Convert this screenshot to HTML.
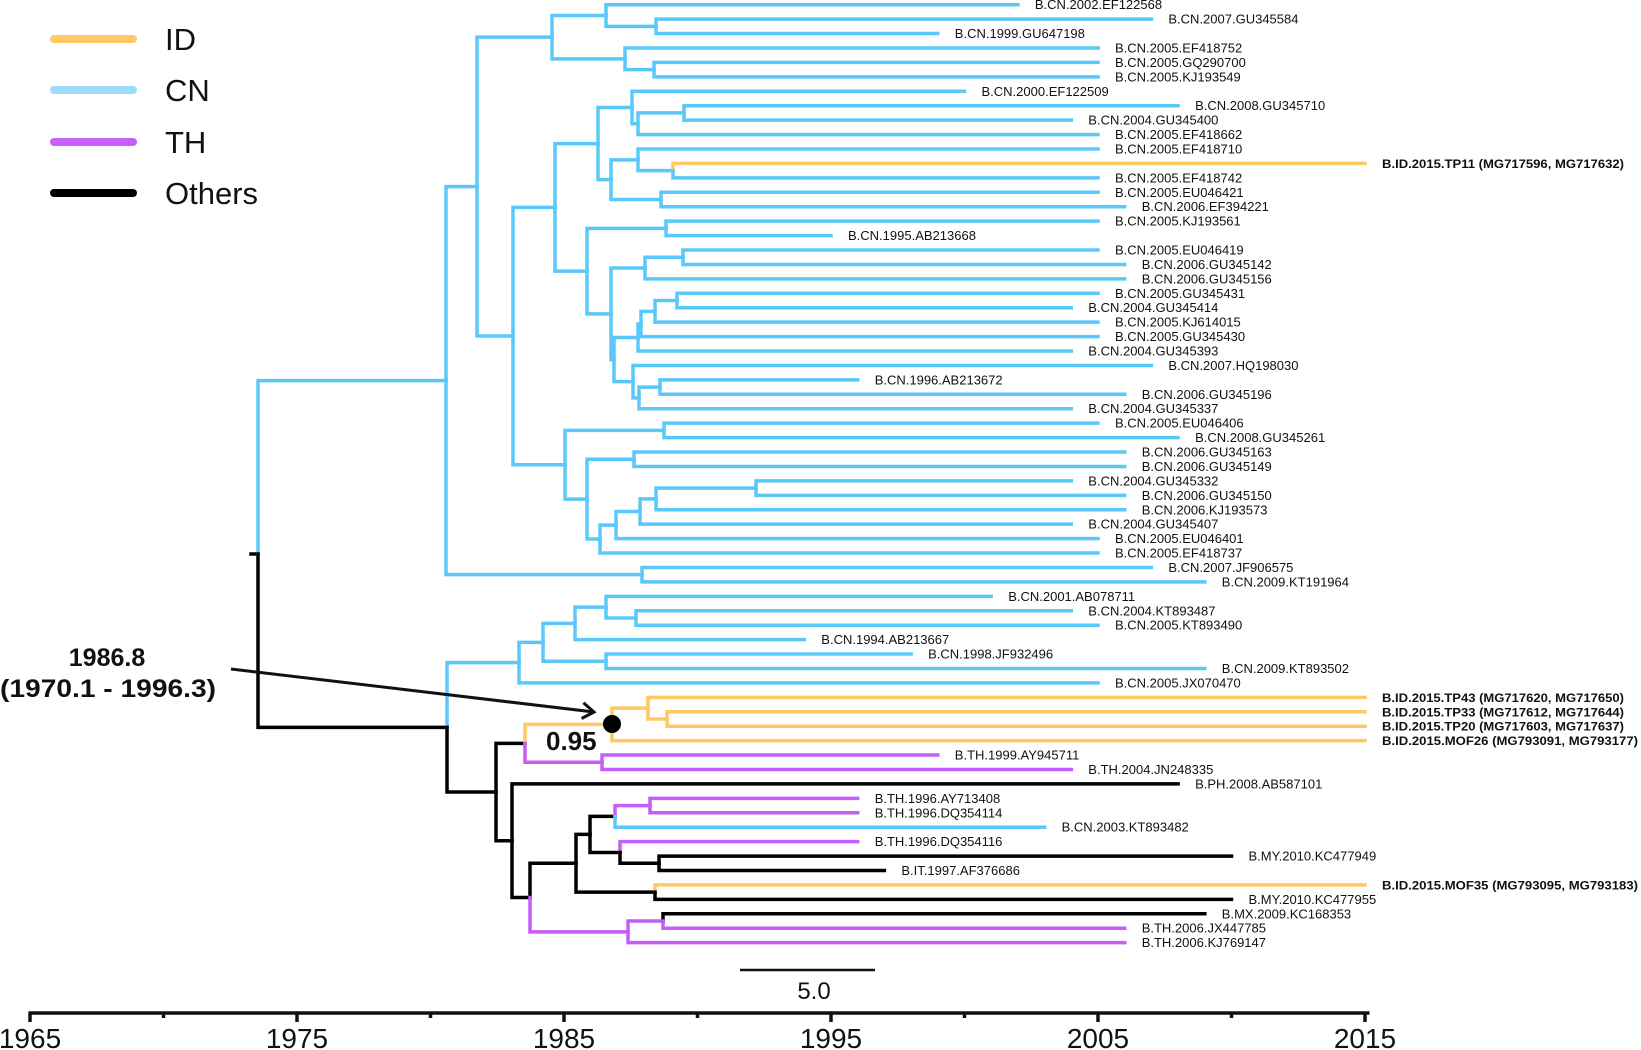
<!DOCTYPE html>
<html><head><meta charset="utf-8"><style>
html,body{margin:0;padding:0;background:#fff;}
svg{display:block;font-family:"Liberation Sans",Arial,sans-serif;}
</style></head><body>
<svg id="s" width="1641" height="1050" viewBox="0 0 1641 1050" xmlns="http://www.w3.org/2000/svg">
<g id="tree" fill="none" stroke-width="3.5" stroke-linecap="square"></g>
<g id="labels" font-size="13" fill="#111"></g>
<!-- legend -->
<g stroke-width="8" stroke-linecap="round">
<line x1="54" y1="39" x2="133" y2="39" stroke="#FFC966"/>
<line x1="54" y1="90" x2="133" y2="90" stroke="#9DDCFB"/>
<line x1="54" y1="142" x2="133" y2="142" stroke="#C660FA"/>
<line x1="54" y1="193" x2="133" y2="193" stroke="#000"/>
</g>
<g font-size="31" fill="#111">
<text x="165" y="50">ID</text>
<text x="165" y="101">CN</text>
<text x="165" y="153">TH</text>
<text x="165" y="204">Others</text>
</g>
<!-- annotation -->
<g font-weight="bold" font-size="25" fill="#111" text-anchor="middle">
<text x="107" y="666">1986.8</text>
<text x="108" y="697" textLength="216" lengthAdjust="spacingAndGlyphs">(1970.1 - 1996.3)</text>
</g>
<line x1="231" y1="669" x2="594" y2="712" stroke="#111" stroke-width="3"/>
<polyline id="ah" fill="none" stroke="#111" stroke-width="3"/>
<circle cx="612" cy="724" r="9" fill="#000"/>
<text x="546" y="750" font-size="26" font-weight="bold" fill="#111">0.95</text>
<!-- scale bar -->
<line x1="740" y1="970" x2="875" y2="970" stroke="#111" stroke-width="2.5"/>
<text x="814" y="999" font-size="24" fill="#111" text-anchor="middle">5.0</text>
<!-- axis -->
<g id="axis" stroke="#111" stroke-width="3.5"></g>
<g id="axl" font-size="28" fill="#111" text-anchor="middle"></g>
</svg>
<script>
var NS="http://www.w3.org/2000/svg";
var C={b:"#5BC8FA",o:"#FFC864",p:"#C45EF7",k:"#000"};
var names=["B.CN.2002.EF122568","B.CN.2007.GU345584","B.CN.1999.GU647198","B.CN.2005.EF418752","B.CN.2005.GQ290700","B.CN.2005.KJ193549","B.CN.2000.EF122509","B.CN.2008.GU345710","B.CN.2004.GU345400","B.CN.2005.EF418662","B.CN.2005.EF418710","B.ID.2015.TP11 (MG717596, MG717632)","B.CN.2005.EF418742","B.CN.2005.EU046421","B.CN.2006.EF394221","B.CN.2005.KJ193561","B.CN.1995.AB213668","B.CN.2005.EU046419","B.CN.2006.GU345142","B.CN.2006.GU345156","B.CN.2005.GU345431","B.CN.2004.GU345414","B.CN.2005.KJ614015","B.CN.2005.GU345430","B.CN.2004.GU345393","B.CN.2007.HQ198030","B.CN.1996.AB213672","B.CN.2006.GU345196","B.CN.2004.GU345337","B.CN.2005.EU046406","B.CN.2008.GU345261","B.CN.2006.GU345163","B.CN.2006.GU345149","B.CN.2004.GU345332","B.CN.2006.GU345150","B.CN.2006.KJ193573","B.CN.2004.GU345407","B.CN.2005.EU046401","B.CN.2005.EF418737","B.CN.2007.JF906575","B.CN.2009.KT191964","B.CN.2001.AB078711","B.CN.2004.KT893487","B.CN.2005.KT893490","B.CN.1994.AB213667","B.CN.1998.JF932496","B.CN.2009.KT893502","B.CN.2005.JX070470","B.ID.2015.TP43 (MG717620, MG717650)","B.ID.2015.TP33 (MG717612, MG717644)","B.ID.2015.TP20 (MG717603, MG717637)","B.ID.2015.MOF26 (MG793091, MG793177)","B.TH.1999.AY945711","B.TH.2004.JN248335","B.PH.2008.AB587101","B.TH.1996.AY713408","B.TH.1996.DQ354114","B.CN.2003.KT893482","B.TH.1996.DQ354116","B.MY.2010.KC477949","B.IT.1997.AF376686","B.ID.2015.MOF35 (MG793095, MG793183)","B.MY.2010.KC477955","B.MX.2009.KC168353","B.TH.2006.JX447785","B.TH.2006.KJ769147"];
function leafColor(n){var t=n.split(".")[1];return t=="CN"?"b":t=="ID"?"o":t=="TH"?"p":"k";}
function Y(i){return 4.7+14.43*i;}
function X(yr){return 30+(yr-1965)*26.7;}
function N(x,c,ch){return {x:x,c:c,ch:ch};}
var A=N(446,"b",[N(477,"b",[N(552,"b",[N(606,"b",[0,N(656,"b",[1,2])]),N(625,"b",[3,N(654,"b",[4,5])])]),N(513,"b",[N(555,"b",[N(598,"b",[N(632,"b",[6,N(638,"b",[N(684,"b",[7,8]),9])]),N(611,"b",[N(638,"b",[10,N(673,"b",[11,12])]),N(661,"b",[13,14])])]),N(587,"b",[N(666,"b",[15,16]),N(611,"b",[N(645,"b",[N(683,"b",[17,18]),19]),N(614,"b",[N(638,"b",[N(641,"b",[N(655,"b",[N(677,"b",[20,21]),22]),23]),24]),N(633,"b",[25,N(639,"b",[N(660,"b",[26,27]),28])])])])])]),N(565,"b",[N(664,"b",[29,30]),N(587,"b",[N(634,"b",[31,32]),N(600,"b",[N(616,"b",[N(640,"b",[N(656,"b",[N(756,"b",[33,34]),35]),36]),37]),38])])])])]),N(642,"b",[39,40])]);
var B=N(447,"k",[N(519,"b",[N(543,"b",[N(575,"b",[N(606,"b",[41,N(636,"b",[42,43])]),44]),N(606,"b",[45,46])]),47]),N(496,"k",[N(525,"k",[N(612,"o",[N(648,"o",[48,N(667,"o",[49,50])]),51]),N(602,"p",[52,53])]),N(512,"k",[54,N(530,"k",[N(576,"k",[N(590,"k",[N(615,"k",[N(650,"p",[55,56]),57]),N(620,"k",[58,N(659,"k",[59,60])])]),N(655,"k",[61,62])]),N(628,"p",[N(663,"p",[63,64]),65])])])])]);
var root=N(258,"k",[A,B]);
var T=document.getElementById("tree"),L=document.getElementById("labels");
function info(n){
 if(typeof n=="number"){var nm=names[n];var yr=+nm.split(".")[2];return {x:X(yr),y:Y(n),c:leafColor(nm)};}
 var ys=n.ch.map(info);n.ys=ys;n.y=(ys[0].y+ys[ys.length-1].y)/2;return {x:n.x,y:n.y,c:n.c};
}
function draw(n){
 n.ch.forEach(function(ch,k){var d=n.ys[k];
  var p=document.createElementNS(NS,"path");
  p.setAttribute("d","M"+n.x+","+n.y+"L"+n.x+","+d.y+"L"+d.x+","+d.y);
  p.setAttribute("stroke",C[d.c]);T.appendChild(p);
  if(typeof ch!="number")draw(ch);
 });
}
info(root);
var st=document.createElementNS(NS,"path");st.setAttribute("d","M251,"+root.y+"L258,"+root.y);st.setAttribute("stroke","#000");T.appendChild(st);
draw(root);
names.forEach(function(nm,i){var yr=+nm.split(".")[2];var t=document.createElementNS(NS,"text");
 t.setAttribute("x",X(yr)+17);t.setAttribute("y",Y(i)+4.5);t.textContent=nm;
 if(nm.indexOf("(")>0){t.setAttribute("font-weight","bold");t.setAttribute("font-size","12");
  t.setAttribute("textLength",nm.indexOf("MOF")>0?256:242);t.setAttribute("lengthAdjust","spacingAndGlyphs");}
 L.appendChild(t);});
var ax=document.getElementById("axis"),al=document.getElementById("axl");
function ln(x1,y1,x2,y2){var l=document.createElementNS(NS,"line");l.setAttribute("x1",x1);l.setAttribute("y1",y1);l.setAttribute("x2",x2);l.setAttribute("y2",y2);ax.appendChild(l);}
ln(28.5,1013,1369.5,1013);
for(var yr=1965;yr<=2015;yr+=5){var x=X(yr);if(yr%10==5){ln(x,1013,x,1022);var t=document.createElementNS(NS,"text");t.setAttribute("x",x);t.setAttribute("y",1048);t.textContent=yr;al.appendChild(t);}else ln(x,1013,x,1018);}
// arrowhead
var dx=363,dy=43,l=Math.hypot(dx,dy);dx/=l;dy/=l;var tx=594,ty=712,s=14,a=0.6;
function rot(ang){return [tx-s*(dx*Math.cos(ang)-dy*Math.sin(ang)),ty-s*(dx*Math.sin(ang)+dy*Math.cos(ang))];}
var p1=rot(a),p2=rot(-a);
document.getElementById("ah").setAttribute("points",p1.join(",")+" "+tx+","+ty+" "+p2.join(","));
</script>
</body></html>
